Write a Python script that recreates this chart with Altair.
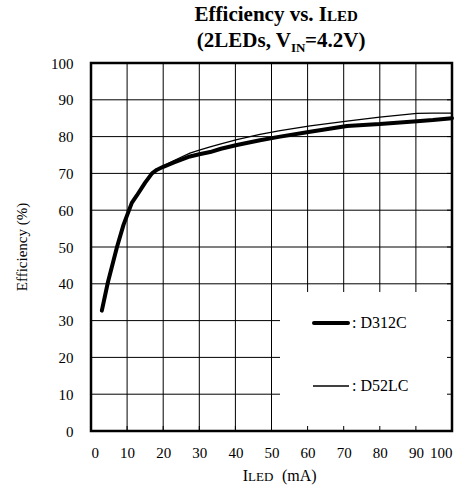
import altair as alt
import pandas as pd

# ---- data ----
iled = [3, 4.7, 7.2, 9, 11.3, 12.7, 15, 16.9, 18.3, 20, 23, 27.4, 30, 33, 36,
        40.4, 46.8, 52.4, 60.7, 70.9, 80, 90.3, 94.7, 100]
eff_d312c = [32.7, 40.5, 50, 56, 62, 64, 67.5, 70, 71, 71.8, 73, 74.6, 75.2, 75.8,
             76.7, 77.7, 79, 80, 81.3, 82.9, 83.4, 84.2, 84.5, 85]
eff_d52lc = [32.7, 40.5, 50, 56, 62, 64, 67.5, 70, 71, 72, 73.5, 75.5, 76.3, 77.2,
             78, 79.2, 80.6, 81.6, 82.9, 84.2, 85.3, 86.3, 86.4, 86.4]
x_ticks = [0, 10, 20, 30, 40, 50, 60, 70, 80, 90, 100]
y_ticks = [0, 10, 20, 30, 40, 50, 60, 70, 80, 90, 100]
series_names = ["D312C", "D52LC"]

W, H = 361, 368
FONT = "Liberation Serif"

df1 = pd.DataFrame({"x": iled, "y": eff_d312c})
df2 = pd.DataFrame({"x": iled, "y": eff_d52lc})
xt = pd.DataFrame({"x": x_ticks})
yt = pd.DataFrame({"y": y_ticks})

xs = alt.Scale(domain=[0, 100], nice=False, zero=False)
ys = alt.Scale(domain=[0, 100], nice=False, zero=False)

x_axis = alt.Axis(values=x_ticks, grid=False,
                  ticks=False, domain=False, labelFont=FONT, labelFontSize=15,
                  labelColor="black", labelPadding=14, labelOverlap=False, title=None)
y_axis = alt.Axis(values=y_ticks, grid=False,
                  ticks=False, domain=False, labelFont=FONT, labelFontSize=15,
                  labelColor="black", labelPadding=18, labelOverlap=False, title=None)

X = alt.X("x:Q", scale=xs, axis=x_axis)
Y = alt.Y("y:Q", scale=ys, axis=y_axis)

# gridlines
gx = alt.Chart(xt).mark_rule(color="black", strokeWidth=1).encode(x=X)
gy = alt.Chart(yt).mark_rule(color="black", strokeWidth=1).encode(y=Y)

thick = alt.Chart(df1).mark_line(color="black", strokeWidth=4, strokeCap="round",
                                 strokeJoin="round").encode(x=X, y=Y)
thin = alt.Chart(df2).mark_line(color="black", strokeWidth=1.3).encode(x=X, y=Y)

# white legend box covering the grid
box = alt.Chart(pd.DataFrame({"a": [0]})).mark_rect(fill="white").encode(
    x=alt.value(189), x2=alt.value(W), y=alt.value(229), y2=alt.value(H)
)

# inward ticks on bottom and right
bt = alt.Chart(xt).mark_rule(color="black", strokeWidth=1).encode(
    x=X, y=alt.value(H), y2=alt.value(H - 5)
)
rt = alt.Chart(yt).mark_rule(color="black", strokeWidth=1).encode(
    y=Y, x=alt.value(W), x2=alt.value(W - 5)
)

# legend
leg1 = alt.Chart(pd.DataFrame({"a": [0]})).mark_rule(color="black", strokeWidth=4, strokeCap="round").encode(
    x=alt.value(223), x2=alt.value(257), y=alt.value(260)
)
leg2 = alt.Chart(pd.DataFrame({"a": [0]})).mark_rule(color="black", strokeWidth=1.3).encode(
    x=alt.value(222), x2=alt.value(258), y=alt.value(323)
)
lt1 = alt.Chart(pd.DataFrame({"t": [": " + series_names[0]]})).mark_text(
    font=FONT, fontSize=16, align="left", baseline="middle", color="black").encode(
    text="t:N", x=alt.value(261), y=alt.value(260))
lt2 = alt.Chart(pd.DataFrame({"t": [": " + series_names[1]]})).mark_text(
    font=FONT, fontSize=16, align="left", baseline="middle", color="black").encode(
    text="t:N", x=alt.value(261), y=alt.value(323))

# frame
frame = alt.Chart(pd.DataFrame({"a": [0]})).mark_rect(fill=None, stroke="black", strokeWidth=2.5).encode(
    x=alt.value(0), x2=alt.value(W), y=alt.value(0), y2=alt.value(H)
)

def txt(s, x, y, size, bold=False, align="left", angle=0, baseline="alphabetic"):
    kw = dict(font=FONT, fontSize=size, align=align, baseline=baseline, color="black")
    if bold:
        kw["fontWeight"] = "bold"
    if angle:
        kw["angle"] = angle
    return alt.Chart(pd.DataFrame({"t": [s]})).mark_text(**kw).encode(
        text="t:N", x=alt.value(x), y=alt.value(y))

titles = [
    txt("Efficiency vs. I", 236, -42, 21, bold=True, align="right"),
    txt("LED", 236, -42, 15, bold=True),
    txt("(2LEDs, V", 200, -16, 21, bold=True, align="right"),
    txt("IN", 200, -11, 13, bold=True),
    txt("=4.2V)", 214, -16, 21, bold=True),
    txt("I", 157, 418, 16, align="right"),
    txt("LED", 157, 418, 13),
    txt("(mA)", 191, 418, 16),
    txt("Efficiency (%)", -69, H / 2, 15, angle=270, align="center", baseline="middle"),
]

chart = alt.layer(gx, gy, box, bt, rt, thin, thick, leg1, leg2, lt1, lt2, frame, *titles).properties(
    width=W, height=H,
    autosize=alt.AutoSizeParams(type="none"),
    padding={"left": 91, "top": 63, "right": 17, "bottom": 66},
).configure_view(stroke=None).configure(background="white", font=FONT)

chart.save("out.html", embed_options={"renderer": "svg", "actions": False})
